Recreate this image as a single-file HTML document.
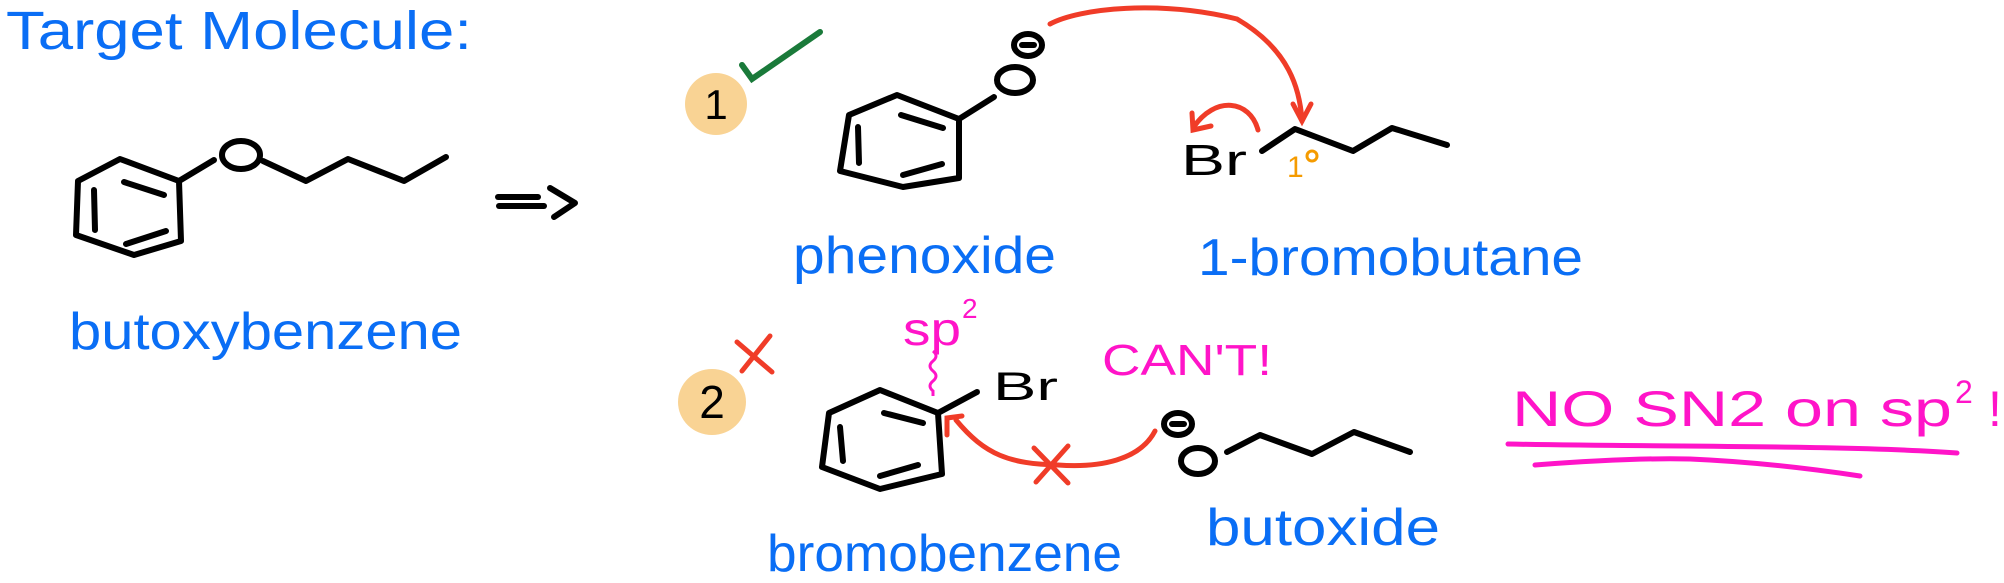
<!DOCTYPE html>
<html><head><meta charset="utf-8"><style>
html,body{margin:0;padding:0;background:#fff}
svg{display:block}
text{font-family:"Liberation Sans",sans-serif}
</style></head><body>
<svg width="2004" height="583" viewBox="0 0 2004 583" xmlns="http://www.w3.org/2000/svg">
<g fill="none" stroke="#000" stroke-width="6" stroke-linecap="round" stroke-linejoin="round">
<polygon points="120,159 78,181 76,235 134,255 181,241 179,181"/>
<line x1="124" y1="182" x2="164" y2="195"/><line x1="94" y1="190" x2="95" y2="230"/><line x1="126" y1="244" x2="166" y2="231"/>
<line x1="179" y1="181" x2="214" y2="160"/>
<ellipse cx="241" cy="155" rx="19" ry="14"/>
<polyline points="263,161 306,181 348,159 404,181 446,157"/>
<line x1="498" y1="197" x2="538" y2="197"/><line x1="499" y1="206" x2="544" y2="206"/>
<polyline points="550,188 575,203 554,217"/>
<polygon points="897,95 849,115 840,171 903,187 959,178 959,119"/>
<line x1="901" y1="115" x2="943" y2="128"/><line x1="858" y1="127" x2="859" y2="163"/><line x1="903" y1="175" x2="942" y2="164"/>
<line x1="959" y1="119" x2="994" y2="97"/>
<ellipse cx="1015" cy="80" rx="18" ry="13"/>
<ellipse cx="1028" cy="45" rx="14" ry="11"/><line x1="1022" y1="45" x2="1034" y2="45"/>
<polyline points="1262,151 1295,129 1353,151 1392,128 1447,145"/>
<polygon points="880,390 829,413 822,467 880,489 942,474 938,413"/>
<line x1="884" y1="413" x2="923" y2="423"/><line x1="840" y1="427" x2="843" y2="461"/><line x1="880" y1="476" x2="918" y2="465"/>
<line x1="938" y1="413" x2="977" y2="392"/>
<ellipse cx="1178" cy="424" rx="14" ry="11"/><line x1="1172" y1="424" x2="1184" y2="424"/>
<ellipse cx="1198" cy="461" rx="17" ry="13"/>
<polyline points="1227,452 1260,435 1312,454 1354,432 1410,452"/>
</g>
<ellipse cx="716" cy="104" rx="31" ry="31" fill="#f9d394"/>
<ellipse cx="712" cy="402" rx="34" ry="33" fill="#f9d394"/>
<text x="716" y="119" font-size="42" text-anchor="middle" fill="#000">1</text>
<text x="712" y="418" font-size="46" text-anchor="middle" fill="#000">2</text>
<polyline points="742,65 752,79 820,32" fill="none" stroke="#1a7a3a" stroke-width="6" stroke-linecap="round"/>
<g stroke="#f03c28" stroke-width="5" stroke-linecap="round" fill="none">
<line x1="737" y1="342" x2="772" y2="372"/><line x1="770" y1="336" x2="742" y2="371"/>
<path d="M1050,24 C1080,8 1160,0 1237,19 C1290,50 1300,90 1302,121"/>
<polyline points="1293,104 1302,121 1311,104"/>
<path d="M1258,130 C1250,100 1215,95 1193,128"/>
<polyline points="1192,113 1193,130 1211,126"/>
<path d="M1155,431 C1140,460 1100,468 1058,465 C1010,464 985,455 956,420"/>
<polyline points="947,435 947,418 962,416"/>
<line x1="1034" y1="448" x2="1068" y2="483"/><line x1="1068" y1="446" x2="1036" y2="482"/>
</g>
<path d="M933,351 q6,5 0,10 q-6,5 0,10 q6,5 0,10 q-6,5 0,10 l0,5" fill="none" stroke="#ff14c8" stroke-width="3"/>
<g fill="#0a6ef5">
<text x="6" y="49" font-size="54" textLength="466" lengthAdjust="spacingAndGlyphs">Target Molecule:</text>
<text x="69" y="349" font-size="52" textLength="393" lengthAdjust="spacingAndGlyphs">butoxybenzene</text>
<text x="793" y="273" font-size="52" textLength="263" lengthAdjust="spacingAndGlyphs">phenoxide</text>
<text x="1198" y="275" font-size="52" textLength="385" lengthAdjust="spacingAndGlyphs">1-bromobutane</text>
<text x="767" y="571" font-size="52" textLength="355" lengthAdjust="spacingAndGlyphs">bromobenzene</text>
<text x="1206" y="545" font-size="52" textLength="234" lengthAdjust="spacingAndGlyphs">butoxide</text>
</g>
<text x="1181" y="175" font-size="44" textLength="66" lengthAdjust="spacingAndGlyphs">Br</text>
<text x="993" y="400" font-size="40" textLength="65" lengthAdjust="spacingAndGlyphs">Br</text>
<text x="1287" y="177" font-size="30" fill="#f59b00">1</text>
<circle cx="1312" cy="156" r="5" fill="none" stroke="#f59b00" stroke-width="3"/>
<g fill="#ff14c8">
<text x="903" y="345" font-size="46" textLength="58" lengthAdjust="spacingAndGlyphs">sp</text>
<text x="962" y="318" font-size="28">2</text>
<text x="1102" y="375" font-size="44" textLength="170" lengthAdjust="spacingAndGlyphs">CAN'T!</text>
<text x="1512" y="426" font-size="50" textLength="440" lengthAdjust="spacingAndGlyphs">NO SN2 on sp</text>
<text x="1955" y="403" font-size="32">2</text>
<text x="1988" y="426" font-size="50">!</text>
</g>
<g stroke="#ff14c8" stroke-width="5" fill="none" stroke-linecap="round">
<path d="M1508,444 C1650,447 1850,445 1957,453"/>
<path d="M1535,465 C1600,460 1650,458 1690,459 C1760,462 1820,470 1860,476"/>
</g>
</svg>
</body></html>
